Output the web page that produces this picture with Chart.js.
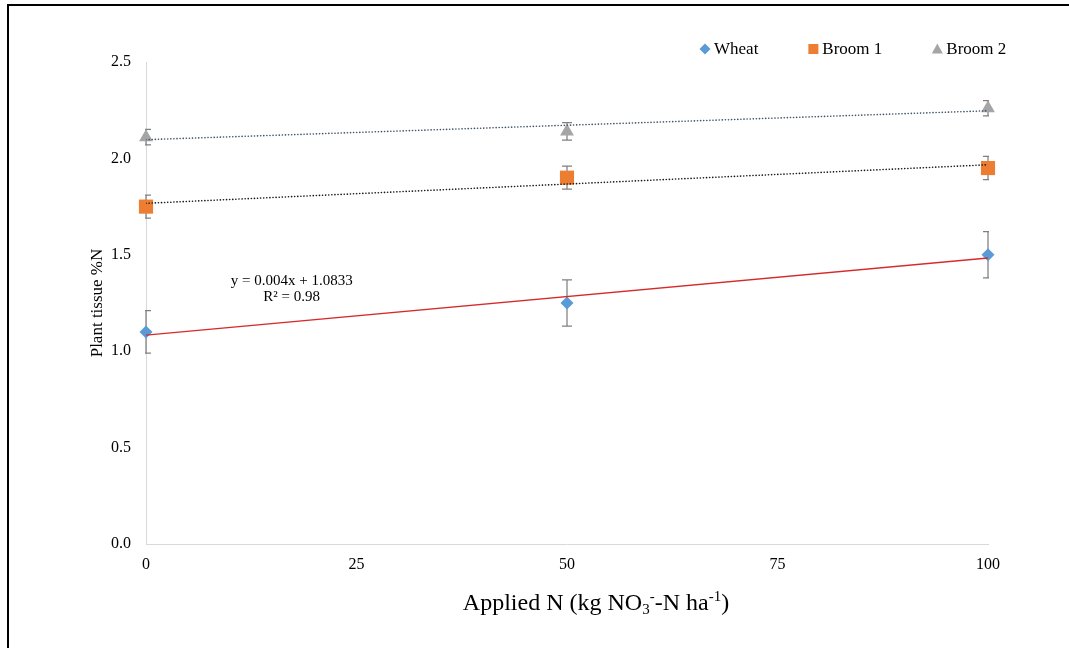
<!DOCTYPE html>
<html>
<head>
<meta charset="utf-8">
<title>Plant tissue %N</title>
<script src="https://cdn.jsdelivr.net/npm/chart.js@4/dist/chart.umd.min.js"></script>
<style>
  html, body { margin: 0; padding: 0; background: #fff; }
  #wrap { position: relative; width: 1069px; height: 648px; overflow: hidden; }
  #frame { position: absolute; left: 7px; top: 4px; width: 1100px; height: 700px;
           border-left: 2px solid #000; border-top: 2px solid #000; }
  canvas { position: absolute; left: 0; top: 0; }
</style>
</head>
<body>
<div id="wrap">
  <div id="frame"></div>
  <canvas id="chart" width="1069" height="648"></canvas>
</div>
<script>
// Applied N rates (kg NO3--N / ha)
const nRates = [0, 50, 100];

// Plant tissue %N, means and error bar half-lengths
const wheat = [1.10, 1.25, 1.50];
const wheatErr = [0.11, 0.12, 0.12];
const broom1 = [1.75, 1.90, 1.95];
const broom1Err = [0.06, 0.06, 0.06];
const broom2 = [2.11, 2.14, 2.26];
const broom2Err = [0.04, 0.045, 0.04];

// linear trendlines, read at x = 0 and x = 100
const trendX = [0, 100];
const wheatTrend = [1.0833, 1.4833];
const broom1Trend = [1.767, 1.967];
const broom2Trend = [2.097, 2.247];

const seriesNames = ["Wheat", "Broom 1", "Broom 2"];
const equationLines = ["y = 0.004x + 1.0833", "R\u00B2 = 0.98"];

const FONT = "'Liberation Serif', 'Times New Roman', serif";
const colors = { wheat: "#5b9bd5", broom1: "#ed7d31", broom2: "#a5a5a5" };

const toPoints = (xs, ys) => xs.map((x, i) => ({ x: x, y: ys[i] }));

// error bars, clipped to plot area like Excel does
const errorBars = {
  id: "errorBars",
  beforeDatasetsDraw(chart) {
    const { ctx, chartArea, scales: { x, y } } = chart;
    ctx.save();
    ctx.beginPath();
    ctx.rect(chartArea.left - 1, chartArea.top, chartArea.width + 2, chartArea.height);
    ctx.clip();
    ctx.strokeStyle = "#808080";
    ctx.lineWidth = 1.25;
    chart.data.datasets.forEach(ds => {
      if (!ds.errors) return;
      ds.data.forEach((p, i) => {
        const px = x.getPixelForValue(p.x);
        const top = y.getPixelForValue(p.y + ds.errors[i]);
        const bot = y.getPixelForValue(p.y - ds.errors[i]);
        ctx.beginPath();
        ctx.moveTo(px, top); ctx.lineTo(px, bot);
        ctx.moveTo(px - 5, top); ctx.lineTo(px + 5, top);
        ctx.moveTo(px - 5, bot); ctx.lineTo(px + 5, bot);
        ctx.stroke();
      });
    });
    ctx.restore();
  }
};

function marker(ctx, style, cx, cy, color) {
  ctx.fillStyle = color;
  ctx.beginPath();
  if (style === "diamond") {
    ctx.moveTo(cx, cy - 5.5); ctx.lineTo(cx + 5.5, cy);
    ctx.lineTo(cx, cy + 5.5); ctx.lineTo(cx - 5.5, cy);
  } else if (style === "square") {
    ctx.rect(cx - 5, cy - 5, 10, 10);
  } else {
    ctx.moveTo(cx, cy - 5.5); ctx.lineTo(cx + 5.5, cy + 4.5); ctx.lineTo(cx - 5.5, cy + 4.5);
  }
  ctx.closePath();
  ctx.fill();
}

// legend, equation and x title with sub/superscripts
const extras = {
  id: "extras",
  afterDraw(chart) {
    const { ctx, scales: { x, y } } = chart;
    ctx.save();
    ctx.fillStyle = "#000";
    ctx.textBaseline = "middle";

    // legend
    const styles = ["diamond", "square", "triangle"];
    const cols = [colors.wheat, colors.broom1, colors.broom2];
    ctx.font = "17px " + FONT;
    let cx = 705;
    seriesNames.forEach((name, i) => {
      marker(ctx, styles[i], cx, 49, cols[i]);
      ctx.fillStyle = "#000";
      ctx.textAlign = "left";
      ctx.fillText(name, cx + 9, 50);
      cx += 9 + ctx.measureText(name).width + 55;
    });

    // trendline equation
    ctx.font = "15px " + FONT;
    ctx.textAlign = "center";
    const ex = x.getPixelForValue(17.3);
    ctx.fillText(equationLines[0], ex, y.getPixelForValue(1.364));
    ctx.fillText(equationLines[1], ex, y.getPixelForValue(1.281));

    // x axis title
    const parts = [
      ["Applied N (kg NO", 0, 24],
      ["3", 4, 15],
      ["-", -9, 15],
      ["-N ha", 0, 24],
      ["-1", -9, 15],
      [")", 0, 24]
    ];
    ctx.textAlign = "left";
    ctx.textBaseline = "alphabetic";
    let total = 0;
    parts.forEach(p => { ctx.font = p[2] + "px " + FONT; total += ctx.measureText(p[0]).width; });
    let tx = 596 - total / 2;
    parts.forEach(p => {
      ctx.font = p[2] + "px " + FONT;
      ctx.fillText(p[0], tx, 610 + p[1]);
      tx += ctx.measureText(p[0]).width;
    });
    ctx.restore();
  }
};

new Chart(document.getElementById("chart"), {
  type: "scatter",
  data: {
    datasets: [
      {
        label: seriesNames[0],
        data: toPoints(nRates, wheat),
        errors: wheatErr,
        pointStyle: "rectRot",
        pointRadius: 6.5,
        pointHoverRadius: 6.5,
        pointBorderWidth: 0,
        backgroundColor: colors.wheat,
        borderColor: colors.wheat,
        clip: false,
        order: 1
      },
      {
        label: seriesNames[1],
        data: toPoints(nRates, broom1),
        errors: broom1Err,
        pointStyle: "rect",
        pointRadius: 10,
        pointHoverRadius: 10,
        pointBorderWidth: 0,
        backgroundColor: colors.broom1,
        borderColor: colors.broom1,
        clip: false,
        order: 1
      },
      {
        label: seriesNames[2],
        data: toPoints(nRates, broom2),
        errors: broom2Err,
        pointStyle: "triangle",
        pointRadius: 8,
        pointHoverRadius: 8,
        pointBorderWidth: 0,
        backgroundColor: colors.broom2,
        borderColor: colors.broom2,
        clip: false,
        order: 1
      },
      {
        label: "Linear (Wheat)",
        data: toPoints(trendX, wheatTrend),
        showLine: true,
        pointRadius: 0,
        borderColor: "#d62a2a",
        borderWidth: 1.3,
        order: 0
      },
      {
        label: "Linear (Broom 1)",
        data: toPoints(trendX, broom1Trend),
        showLine: true,
        pointRadius: 0,
        borderColor: "#1a1a1a",
        borderWidth: 1.6,
        borderDash: [0.1, 3],
        borderCapStyle: "round",
        order: 0
      },
      {
        label: "Linear (Broom 2)",
        data: toPoints(trendX, broom2Trend),
        showLine: true,
        pointRadius: 0,
        borderColor: "#44546a",
        borderWidth: 1.6,
        borderDash: [0.1, 3],
        borderCapStyle: "round",
        order: 0
      }
    ]
  },
  options: {
    responsive: false,
    animation: false,
    layout: { padding: { left: 85, right: 81, top: 62, bottom: 64 } },
    plugins: {
      legend: { display: false },
      tooltip: { enabled: false }
    },
    scales: {
      x: {
        type: "linear",
        min: 0,
        max: 100,
        afterFit: s => { s.height = 40; },
        ticks: { stepSize: 25, padding: 11, color: "#000", font: { family: FONT, size: 16 } },
        grid: { drawOnChartArea: false, drawTicks: false },
        border: { color: "#d9d9d9", width: 1 }
      },
      y: {
        min: 0,
        max: 2.5,
        afterFit: s => { s.width = 61; },
        ticks: {
          stepSize: 0.5,
          padding: 15,
          color: "#000",
          font: { family: FONT, size: 16 },
          callback: v => v.toFixed(1)
        },
        grid: { drawOnChartArea: false, drawTicks: false },
        border: { color: "#d9d9d9", width: 1 },
        title: {
          display: true,
          text: "Plant tissue %N",
          color: "#000",
          padding: { top: 2, bottom: 2 },
          font: { family: FONT, size: 17 }
        }
      }
    }
  },
  plugins: [errorBars, extras]
});
</script>
</body>
</html>
